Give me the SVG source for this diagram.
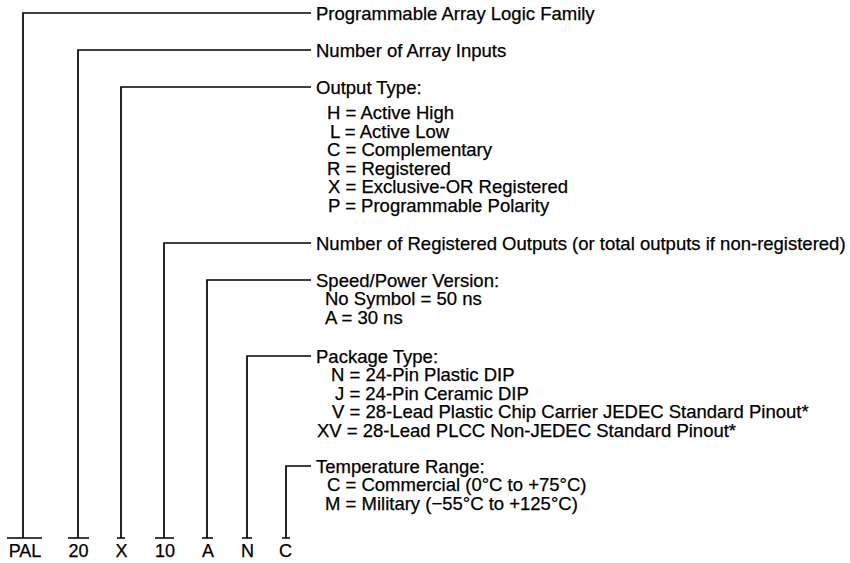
<svg xmlns="http://www.w3.org/2000/svg" width="850" height="563" viewBox="0 0 850 563">
<style>
text{font-family:"Liberation Sans",Arial,sans-serif;font-size:18.5px;fill:#000;stroke:#000;stroke-width:0.25}
.c{fill:none;stroke:#000;stroke-width:1.7}
.lbl{text-anchor:middle;font-size:18px}
</style>
<rect width="850" height="563" fill="#fff"/>
<g id="connectors">
<path class="c" d="M23 538V13H311"/>
<path class="c" d="M78 538V50H311"/>
<path class="c" d="M121 538V87H311"/>
<path class="c" d="M164 538V243H311"/>
<path class="c" d="M207 538V280H311"/>
<path class="c" d="M247 538V356H311"/>
<path class="c" d="M286 538V466H311"/>
<path class="c" d="M7 538H42M68 538H89M117 538H125M155 538H174M202 538H213M242 538H252M282 538H290"/>
</g>
<g id="node-pal"><text class="lbl" x="25" y="557">PAL</text></g>
<g id="node-20"><text class="lbl" x="78.5" y="557">20</text></g>
<g id="node-x"><text class="lbl" x="121.5" y="557">X</text></g>
<g id="node-10"><text class="lbl" x="165" y="557">10</text></g>
<g id="node-a"><text class="lbl" x="208" y="557">A</text></g>
<g id="node-n"><text class="lbl" x="247.5" y="557">N</text></g>
<g id="node-c"><text class="lbl" x="285.5" y="557">C</text></g>
<g id="desc-family"><text x="316" y="19.5">Programmable Array Logic Family</text></g>
<g id="desc-inputs"><text x="316" y="56.5">Number of Array Inputs</text></g>
<g id="desc-output">
<text x="316" y="93.5">Output Type:</text>
<text x="327" y="119">H = Active High</text>
<text x="330" y="137.5">L = Active Low</text>
<text x="327" y="156">C = Complementary</text>
<text x="327" y="174.5">R = Registered</text>
<text x="328" y="193">X = Exclusive-OR Registered</text>
<text x="328" y="211.5">P = Programmable Polarity</text>
</g>
<g id="desc-registered"><text x="316" y="249.5">Number of Registered Outputs (or total outputs if non-registered)</text></g>
<g id="desc-speed">
<text x="316" y="286.5">Speed/Power Version:</text>
<text x="325" y="305">No Symbol = 50 ns</text>
<text x="325" y="323.5">A = 30 ns</text>
</g>
<g id="desc-package">
<text x="316" y="362.5">Package Type:</text>
<text x="331" y="381">N = 24-Pin Plastic DIP</text>
<text x="335" y="399.5">J = 24-Pin Ceramic DIP</text>
<text x="332" y="418">V = 28-Lead Plastic Chip Carrier JEDEC Standard Pinout*</text>
<text x="317" y="436.5">XV = 28-Lead PLCC Non-JEDEC Standard Pinout*</text>
</g>
<g id="desc-temp">
<text x="316" y="472.5">Temperature Range:</text>
<text x="327" y="491">C = Commercial (0°C to +75°C)</text>
<text x="325" y="509.5">M = Military (−55°C to +125°C)</text>
</g>
</svg>
